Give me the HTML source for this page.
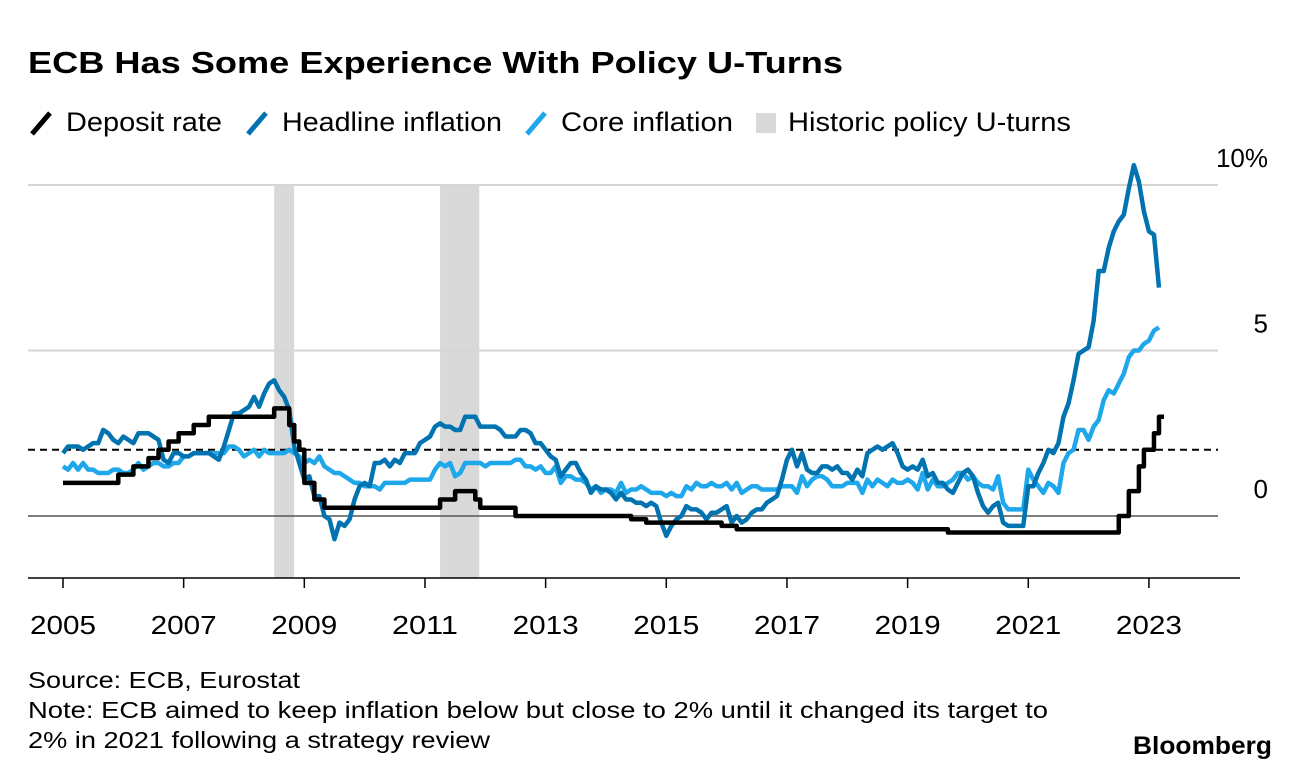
<!DOCTYPE html>
<html><head><meta charset="utf-8"><style>
body{margin:0;background:#fff;font-family:"Liberation Sans",sans-serif;}
svg text{font-family:"Liberation Sans",sans-serif;}
</style></head><body>
<svg id="chart" width="1296" height="778" viewBox="0 0 1296 778">
<text x="28" y="73" font-size="31" font-weight="bold" fill="#000" textLength="815" lengthAdjust="spacingAndGlyphs">ECB Has Some Experience With Policy U-Turns</text>
<g font-size="27" fill="#000">
<g><line x1="32" y1="134" x2="50" y2="113" stroke="#000" stroke-width="5"/><text x="66" y="131" textLength="156" lengthAdjust="spacingAndGlyphs">Deposit rate</text></g>
<g><line x1="248" y1="134" x2="266" y2="113" stroke="#0073b0" stroke-width="5"/><text x="282" y="131" textLength="220" lengthAdjust="spacingAndGlyphs">Headline inflation</text></g>
<g><line x1="527" y1="134" x2="545" y2="113" stroke="#1fa7ec" stroke-width="5"/><text x="561" y="131" textLength="172" lengthAdjust="spacingAndGlyphs">Core inflation</text></g>
<g><rect x="756" y="113" width="20" height="20" fill="#d9d9d9"/><text x="788" y="131" textLength="283" lengthAdjust="spacingAndGlyphs">Historic policy U-turns</text></g>
</g>
<g id="plot"></g>
<text x="28" y="688" font-size="23" fill="#000" textLength="272" lengthAdjust="spacingAndGlyphs">Source: ECB, Eurostat</text>
<text x="28" y="718" font-size="23" fill="#000" textLength="1020" lengthAdjust="spacingAndGlyphs">Note: ECB aimed to keep inflation below but close to 2% until it changed its target to</text>
<text x="28" y="748" font-size="23" fill="#000" textLength="462" lengthAdjust="spacingAndGlyphs">2% in 2021 following a strategy review</text>
<text x="1133" y="754" font-size="25" font-weight="bold" fill="#000" textLength="139" lengthAdjust="spacingAndGlyphs">Bloomberg</text>
</svg>
<script>
const startYear = 2005;
const yearTicks = [2005,2007,2009,2011,2013,2015,2017,2019,2021,2023];
const yTicks = [0,5,10];
const yTickLabels = ["0","5","10%"];
const uturns = [[2008.5,2008.83],[2011.25,2011.9]];
const targetLevel = 2;
const headline = [1.9,2.1,2.1,2.1,2.0,2.1,2.2,2.2,2.6,2.5,2.3,2.2,
2.4,2.3,2.2,2.5,2.5,2.5,2.4,2.3,1.7,1.6,1.9,1.9,
1.8,1.8,1.9,1.9,1.9,1.9,1.8,1.7,2.1,2.6,3.1,3.1,
3.2,3.3,3.6,3.3,3.7,4.0,4.1,3.8,3.6,3.2,2.1,1.6,
1.1,1.2,0.6,0.6,0.0,-0.1,-0.7,-0.2,-0.3,-0.1,0.5,0.9,
1.0,0.9,1.6,1.6,1.7,1.5,1.7,1.6,1.9,1.9,1.9,2.2,
2.3,2.4,2.7,2.8,2.7,2.7,2.6,2.6,3.0,3.0,3.0,2.7,
2.7,2.7,2.7,2.6,2.4,2.4,2.4,2.6,2.6,2.5,2.2,2.2,
2.0,1.8,1.7,1.2,1.4,1.6,1.6,1.3,1.1,0.7,0.9,0.8,
0.8,0.7,0.5,0.7,0.5,0.5,0.4,0.4,0.3,0.4,0.3,-0.2,
-0.6,-0.3,-0.1,0.0,0.3,0.2,0.2,0.1,-0.1,0.1,0.1,0.2,
0.3,-0.2,0.0,-0.2,-0.1,0.1,0.2,0.2,0.4,0.5,0.6,1.1,
1.7,2.0,1.5,1.9,1.4,1.3,1.3,1.5,1.5,1.4,1.5,1.3,
1.3,1.1,1.4,1.2,1.9,2.0,2.1,2.0,2.1,2.2,1.9,1.5,
1.4,1.5,1.4,1.7,1.2,1.3,1.0,1.0,0.8,0.7,1.0,1.3,
1.4,1.2,0.7,0.3,0.1,0.3,0.4,-0.2,-0.3,-0.3,-0.3,-0.3,
0.9,0.9,1.3,1.6,2.0,1.9,2.2,3.0,3.4,4.1,4.9,5.0,
5.1,5.9,7.4,7.4,8.1,8.6,8.9,9.1,9.9,10.6,10.1,9.2,
8.6,8.5,6.9];
const core = [1.5,1.4,1.6,1.4,1.6,1.4,1.4,1.3,1.3,1.3,1.4,1.4,
1.3,1.3,1.4,1.6,1.4,1.5,1.6,1.6,1.5,1.5,1.6,1.6,
1.8,1.8,1.9,1.9,1.9,1.9,1.9,1.9,1.9,2.1,2.1,2.0,
1.8,1.9,2.0,1.8,2.0,1.9,1.9,1.9,1.9,2.0,1.9,1.8,
1.6,1.7,1.6,1.8,1.5,1.4,1.3,1.3,1.2,1.1,1.0,1.0,
0.9,0.9,0.9,0.8,1.0,1.0,1.0,1.0,1.0,1.1,1.1,1.1,
1.1,1.1,1.4,1.6,1.5,1.6,1.2,1.3,1.6,1.6,1.6,1.6,
1.5,1.6,1.6,1.6,1.6,1.6,1.7,1.7,1.5,1.5,1.4,1.5,
1.3,1.3,1.5,1.0,1.2,1.2,1.1,1.1,1.0,0.8,0.9,0.7,
0.8,0.8,0.7,1.0,0.7,0.8,0.8,0.9,0.8,0.7,0.7,0.7,
0.6,0.7,0.6,0.6,0.9,0.8,1.0,0.9,0.9,1.0,0.9,0.9,
1.0,0.8,1.0,0.7,0.8,0.9,0.9,0.8,0.8,0.8,0.8,0.9,
0.9,0.9,0.7,1.2,0.9,1.1,1.2,1.2,1.1,0.9,0.9,0.9,
1.0,1.0,1.0,0.7,1.1,0.9,1.1,1.0,0.9,1.1,1.0,1.0,
1.1,1.0,0.8,1.3,0.8,1.1,0.9,0.9,1.0,1.1,1.3,1.3,
1.1,1.2,1.0,0.9,0.9,0.8,1.2,0.4,0.2,0.2,0.2,0.2,
1.4,1.1,0.9,0.7,1.0,0.9,0.7,1.6,1.9,2.0,2.6,2.6,
2.3,2.7,2.9,3.5,3.8,3.7,4.0,4.3,4.8,5.0,5.0,5.2,
5.3,5.6,5.7];
const deposit = [1,1,1,1,1,1,1,1,1,1,1,1.25,
1.25,1.25,1.5,1.5,1.5,1.75,1.75,2,2,2.25,2.25,2.5,
2.5,2.5,2.75,2.75,2.75,3,3,3,3,3,3,3,
3,3,3,3,3,3,3.25,3.25,3.25,2.75,2.25,2,
1,1,0.5,0.5,0.25,0.25,0.25,0.25,0.25,0.25,0.25,0.25,
0.25,0.25,0.25,0.25,0.25,0.25,0.25,0.25,0.25,0.25,0.25,0.25,
0.25,0.25,0.25,0.5,0.5,0.5,0.75,0.75,0.75,0.75,0.5,0.25,
0.25,0.25,0.25,0.25,0.25,0.25,0,0,0,0,0,0,
0,0,0,0,0,0,0,0,0,0,0,0,
0,0,0,0,0,-0.1,-0.1,-0.1,-0.2,-0.2,-0.2,-0.2,
-0.2,-0.2,-0.2,-0.2,-0.2,-0.2,-0.2,-0.2,-0.2,-0.2,-0.2,-0.3,
-0.3,-0.3,-0.4,-0.4,-0.4,-0.4,-0.4,-0.4,-0.4,-0.4,-0.4,-0.4,
-0.4,-0.4,-0.4,-0.4,-0.4,-0.4,-0.4,-0.4,-0.4,-0.4,-0.4,-0.4,
-0.4,-0.4,-0.4,-0.4,-0.4,-0.4,-0.4,-0.4,-0.4,-0.4,-0.4,-0.4,
-0.4,-0.4,-0.4,-0.4,-0.4,-0.4,-0.4,-0.4,-0.5,-0.5,-0.5,-0.5,
-0.5,-0.5,-0.5,-0.5,-0.5,-0.5,-0.5,-0.5,-0.5,-0.5,-0.5,-0.5,
-0.5,-0.5,-0.5,-0.5,-0.5,-0.5,-0.5,-0.5,-0.5,-0.5,-0.5,-0.5,
-0.5,-0.5,-0.5,-0.5,-0.5,-0.5,0,0,0.75,0.75,1.5,2,
2,2.5,3,3];

const NS='http://www.w3.org/2000/svg';
const plot=document.getElementById('plot');
const xs=t=>63+(t-2005)*60.33;
const ys=v=>516-v*33.1;
function mk(tag,attrs){const e=document.createElementNS(NS,tag);for(const k in attrs)e.setAttribute(k,attrs[k]);plot.appendChild(e);return e;}

uturns.forEach((u,i)=>{
  const r=mk('rect',{x:xs(u[0]),y:185,width:xs(u[1])-xs(u[0]),height:393,fill:'#d9d9d9'});
  
  
});
yTicks.forEach((v,i)=>{
  const l=mk('line',{x1:28,x2:1218,y1:ys(v),y2:ys(v),stroke:v===0?'#555':'#d6d6d6','stroke-width':v===0?1.5:2});
  
  
  const t=mk('text',{x:1268,y:ys(v)-18,'font-size':26,'text-anchor':'end',fill:'#000'});
  t.textContent=yTickLabels[i];
  
  
});
const tl=mk('line',{x1:28,x2:1218,y1:ys(targetLevel),y2:ys(targetLevel),stroke:'#000','stroke-width':2,'stroke-dasharray':'7,5'});


const ax=mk('line',{x1:28,x2:1240,y1:578,y2:578,stroke:'#000','stroke-width':1.5});


yearTicks.forEach(y=>{
  const tk=mk('line',{x1:xs(y),x2:xs(y),y1:578,y2:588,stroke:'#000','stroke-width':1.5});
  
  
  const t=mk('text',{x:xs(y),y:634,'font-size':26,'text-anchor':'middle',fill:'#000',textLength:66,lengthAdjust:'spacingAndGlyphs'});
  t.textContent=y;
  
  
});
function line(arr,color,name,step){
  let d='';
  arr.forEach((v,i)=>{
    const x=xs(startYear+i/12),y=ys(v);
    if(i===0)d+='M'+x+','+y;
    else if(step)d+='H'+x+'V'+y;
    else d+='L'+x+','+y;
  });
  const p=mk('path',{d:d,fill:'none',stroke:color,'stroke-width':4.5,'stroke-linejoin':'round'});
  
  
}
line(core,'#1fa7ec','core-inflation-line',false);
line(headline,'#0073b0','headline-inflation-line',false);
line(deposit,'#000','deposit-rate-line',true);
</script>
</body></html>
